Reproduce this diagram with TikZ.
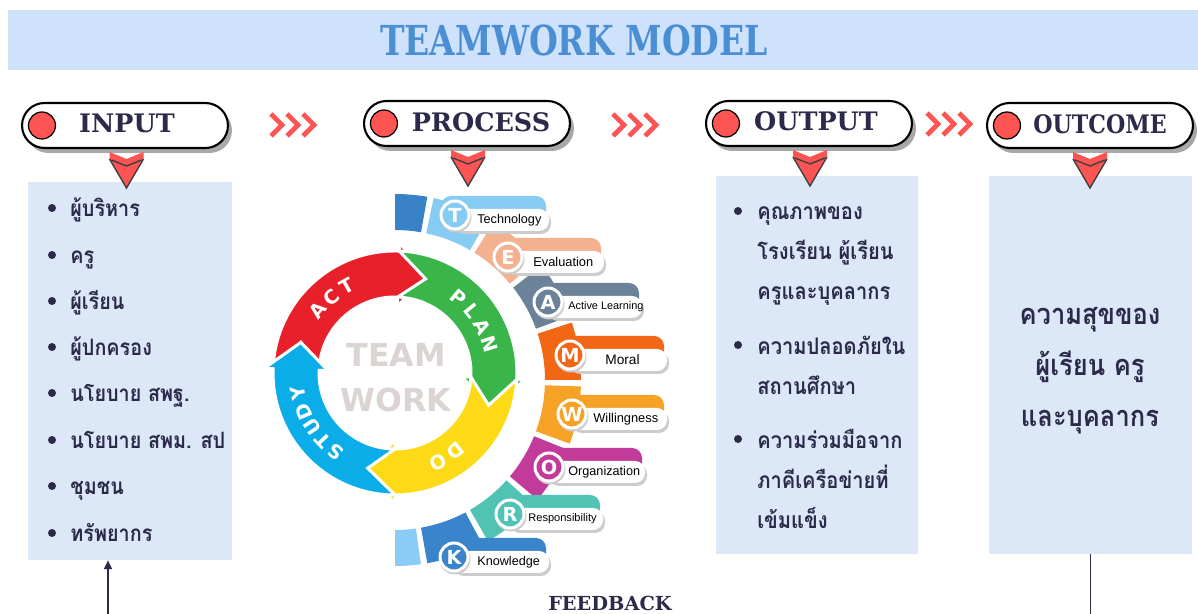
\documentclass[tikz,border=0pt]{standalone}
\usepackage{fontspec}
\usetikzlibrary{shapes.misc,arrows.meta,positioning}
\setmainfont{Liberation Sans}
\newfontfamily\thaifont[Script=Thai, FakeStretch=0.88]{Loma}
\newfontfamily\slabfont{DejaVu Serif}
\newfontfamily\slabnarrow[FakeStretch=0.87]{DejaVu Serif}
\newfontfamily\slabcond[FakeStretch=0.8]{DejaVu Serif}
\newfontfamily\cycfont{DejaVu Sans}

\definecolor{titlebg}{HTML}{CFE2FC}
\definecolor{titletext}{HTML}{4A8ED4}
\definecolor{navy}{HTML}{2C2A4A}
\definecolor{chevred}{HTML}{FF5454}
\definecolor{panelblue}{HTML}{DCE7F8}
\definecolor{shadowgray}{HTML}{A8A8A8}
\definecolor{actred}{HTML}{E8202A}
\definecolor{plangreen}{HTML}{3AB54A}
\definecolor{doyellow}{HTML}{FDDA16}
\definecolor{studyblue}{HTML}{0BADE8}
\definecolor{teamgray}{HTML}{DCD3D3}
\definecolor{tcap}{HTML}{3A82C8}
\definecolor{tband}{HTML}{86CBF2}
\definecolor{eband}{HTML}{F3B190}
\definecolor{aband}{HTML}{6C8298}
\definecolor{mband}{HTML}{F26716}
\definecolor{wband}{HTML}{F5A226}
\definecolor{oband}{HTML}{C23A9A}
\definecolor{rband}{HTML}{50C3B5}
\definecolor{kband}{HTML}{3A84CB}
\definecolor{kcap}{HTML}{8ACCF3}

% one arrow of the PDCA ring, clockwise from #2 to #3
\newcommand{\cycarrow}[3]{%
  \fill[#1, draw=white, line width=1.7pt]
    (#2:\Ro) arc[start angle=#2, end angle=#3, radius=\Ro]
    -- (#3:\Rw) -- ({#3-16}:\Rm) -- (#3:\Rv) -- (#3:\Ri)
    arc[start angle=#3, end angle=#2, radius=\Ri]
    -- ({#2-16}:\Rm) -- cycle;}
\newcommand{\chevrons}[2]{%
  \foreach \i in {0,1,2}
    \draw[chevline] (#1+16*\i,#2-11) -- ++(11,11) -- ++(-11,11);}
\newcommand{\downmark}[2]{%
  \fill[chevred] (#1-17,#2) -- (#1,#2+7) -- (#1+17,#2) -- (#1+17,#2+7)
    -- (#1,#2+36) -- (#1-17,#2+7) -- cycle;
  \draw[markline] (#1-17,#2+7) -- (#1,#2+36) -- (#1+17,#2+7);
  \draw[markline] (#1-15,#2+8) -- (#1,#2+14) -- (#1+15,#2+8);}

\begin{document}
\begin{tikzpicture}[x=0.02cm, y=-0.02cm,
    hdr/.style={rounded rectangle, draw=black, line width=1.2pt, fill=white,
      minimum width=4.12cm, minimum height=0.9cm, inner sep=0pt},
    hdrshadow/.style={rounded rectangle, fill=shadowgray,
      minimum width=4.12cm, minimum height=0.9cm, inner sep=0pt},
    hdrtext/.style={font=\slabfont\bfseries\fontsize{14.5}{16}\selectfont, text=navy, inner sep=0pt},
    dot/.style={circle, fill=chevred, draw=black, line width=0.7pt, minimum size=0.54cm, inner sep=0pt},
    panel/.style={fill=panelblue, minimum height=7.56cm, inner sep=0pt},
    item/.style={font=\thaifont\bfseries\fontsize{12.8}{15}\selectfont, text=navy, anchor=base west, inner sep=0pt},
    outitem/.style={font=\thaifont\bfseries\fontsize{13}{22.8}\selectfont, text=navy, align=left, anchor=base west, inner sep=0pt},
    chevline/.style={chevred, line width=2.8pt, miter limit=4},
    markline/.style={draw=black!75, line width=0.8pt, line join=miter},
    fbline/.style={draw=navy, line width=1.1pt},
    cyclbl/.style={font=\cycfont\bfseries\fontsize{11}{12}\selectfont, text=white, inner sep=0pt},
    wordlbl/.style={anchor=west, inner sep=0pt, text=black},
    ltrcirc/.style={circle, draw=white, line width=1.7pt, minimum size=0.56cm, inner sep=0pt,
      text=white, font=\cycfont\bfseries\fontsize{11}{12}\selectfont}]
  \useasboundingbox (0,0) rectangle (1198,614);

  % title
  \node[fill=titlebg, minimum width=23.8cm, minimum height=1.2cm, inner sep=0pt] (banner) at (603,40) {};
  \node[font=\slabcond\bfseries\fontsize{23.5}{26}\selectfont, text=titletext, inner sep=0pt] (title) at (574,40) {TEAMWORK MODEL};

  % panels
  \node[panel, minimum width=4.08cm] (inbox) at (130,371) {};
  \node[panel, minimum width=4.04cm] (outbox) at (817,365) {};
  \node[panel, minimum width=4.06cm] (outcomebox) at (1090.5,365) {};

  % headers
  \foreach \name/\x/\y in {input/125/125.5, process/467/123.5, output/809/123.5, outcome/1090/125.5} {
    \node[hdrshadow] at (\x+4,\y+5) {};
    \node[hdr] (\name) at (\x,\y) {};
    \node[dot] (\name dot) at ([xshift=0.42cm]\name.west) {};
  }
  \node[hdrtext] (inputlbl) at (127,123) {INPUT};
  \node[hdrtext] (processlbl) at (481,122.5) {PROCESS};
  \node[hdrtext] (outputlbl) at (816,121.5) {OUTPUT};
  \node[hdrtext, font=\slabnarrow\bfseries\fontsize{14.5}{16}\selectfont] (outcomelbl) at (1100,124) {OUTCOME};

  \chevrons{271}{125}
  \chevrons{613}{125}
  \chevrons{927}{124}

  \downmark{126.5}{152}
  \downmark{468}{150}
  \downmark{810}{150}
  \downmark{1090}{152}

  % input list
  \foreach \y/\txt in {210/ผู้บริหาร, 257/ครู, 303/ผู้เรียน, 349/ผู้ปกครอง,
      395/นโยบาย สพฐ., 442/นโยบาย สพม. สป, 488/ชุมชน, 535/ทรัพยากร} {
    \fill[navy] (52,\y-2) circle (4);
    \node[item] at (70,\y+7) {\txt};
  }

  % output list (base = last line)
  \fill[navy] (738,211) circle (4);
  \fill[navy] (738,345) circle (4);
  \fill[navy] (738,439) circle (4);
  \node[outitem] (out1) at (757,300) {คุณภาพของ\\โรงเรียน ผู้เรียน\\ครูและบุคลากร};
  \node[outitem] (out2) at (757,395) {ความปลอดภัยใน\\สถานศึกษา};
  \node[outitem] (out3) at (757,529) {ความร่วมมือจาก\\ภาคีเครือข่ายที่\\เข้มแข็ง};

  % outcome
  \node[font=\thaifont\bfseries\fontsize{16.5}{29}\selectfont, text=navy, align=center, inner sep=0pt]
    (happy) at (1090,371) {ความสุขของ\\ผู้เรียน ครู\\และบุคลากร};

  % TEAMWORK band
  \begin{scope}[shift={(395,380)}, yscale=-1]
    \foreach \col/\a/\b in {tcap/90/80, tband/78/60, eband/58/40, aband/38/20, mband/18/0,
        wband/-2/-20, oband/-22/-40, rband/-42/-60, kband/-62/-80, kcap/-82/-90}
      \fill[\col] (\a:150) arc[start angle=\a, end angle=\b, radius=150]
        -- (\b:186) arc[start angle=\b, end angle=\a, radius=186] -- cycle;
  \end{scope}

  \foreach \ltr/\word/\col/\cx/\yc/\xr/\tx/\fsz in {
      T/Technology/tband/455/220/549/477/7.2,
      E/Evaluation/eband/508/262/604/533/7.3,
      A/Active Learning/aband/548/307/642/568/6.2,
      M/Moral/mband/570/360/667/605/7.8,
      W/Willingness/wband/572/419/667/593/7.3,
      O/Organization/oband/549/472/645/568/7.2,
      R/Responsibility/rband/510/519/603/528/6.3,
      K/Knowledge/kband/454/562/549/477/7.2} {
    \fill[\col, rounded corners=0.2cm] (\cx-14,\yc-24) rectangle (\xr-3,\yc+2);
    \fill[black!20, rounded corners=0.2cm] (\cx,\yc-8) rectangle (\xr+2,\yc+14);
    \fill[white, rounded corners=0.2cm] (\cx,\yc-11) rectangle (\xr,\yc+11);
    \node[wordlbl, font=\fontsize{\fsz}{\fsz}\selectfont] (w\ltr) at (\tx,\yc) {\word};
    \fill[black!20] (\cx+1,\yc-3) circle (15.5);
    \node[ltrcirc, fill=\col] (c\ltr) at (\cx,\yc-5) {\ltr};
  }

  % PDCA ring
  \begin{scope}[shift={(395,373)}, yscale=-1]
    \def\Ro{122}\def\Ri{76}\def\Rm{99}\def\Rw{131}\def\Rv{67}
    \cycarrow{actred}{178}{88}
    \cycarrow{plangreen}{88}{-3}
    \cycarrow{doyellow}{-3}{-90}
    \cycarrow{studyblue}{-90}{-182}
    \foreach \a/\ch in {141/A, 130/C, 119/T, 50/P, 39/L, 28/A, 17/N,
        -52/D, -64/O, -127/S, -137/T, -147/U, -157/D, -168/Y}
      \node[cyclbl, rotate=\a-90] at (\a:\Rm) {\ch};
  \end{scope}
  \node[font=\cycfont\bfseries\fontsize{18}{20}\selectfont, text=teamgray, inner sep=0pt] (team) at (396,355) {TEAM};
  \node[font=\cycfont\bfseries\fontsize{18}{20}\selectfont, text=teamgray, inner sep=0pt] (work) at (396,400) {WORK};

  % feedback
  \coordinate (fbin) at (108,614);
  \coordinate (fbout) at (1090.5,614);
  \draw[fbline, -{Triangle[width=4.5pt, length=5pt]}] (fbin) -- (fbin |- inbox.south);
  \draw[fbline] (outcomebox.south) -- (fbout);
  \node[font=\slabfont\bfseries\fontsize{11}{12}\selectfont, text=navy, inner sep=0pt] (feedback) at (610,603) {FEEDBACK};
\end{tikzpicture}
\end{document}
